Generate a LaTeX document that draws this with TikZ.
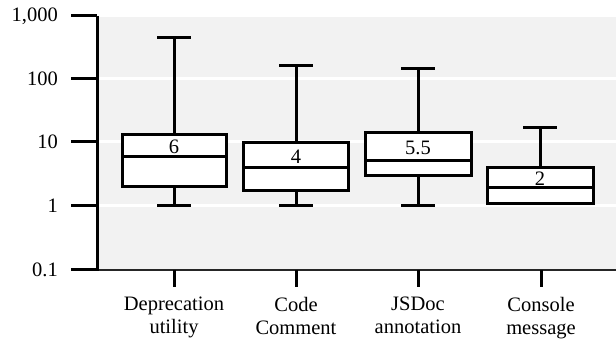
\documentclass[tikz,border=0pt]{standalone}
\usepackage{fontspec}
\setmainfont{Liberation Serif}
\begin{document}
\begin{tikzpicture}[x=1pt,y=-1pt,
  font=\fontsize{20.5}{23}\selectfont,
  axisline/.style={line width=3pt},
  boxline/.style={line width=3pt, fill=white},
  wline/.style={line width=3pt},
  grid line/.style={white, line width=3pt},
  catlabel/.style={align=center, anchor=north, inner sep=0pt},
  ylabel/.style={anchor=east, inner sep=0pt},
  medlabel/.style={inner sep=0pt}]
\useasboundingbox (0,0) rectangle (616,344);
% plot area
\fill[black!5] (98,17) rectangle (616,270);
\foreach \yy in {79,142,206} \draw[grid line] (98,\yy) -- (616,\yy);
% x axis
\draw[line width=2pt, black!85] (71,270) -- (616,270);
% y axis
\draw[axisline] (97,16) -- (97,271);
\foreach \yy/\lab in {16/{1,000},79/100,142/10,206/1,270/0.1}{
  \draw[axisline] (71,\yy) -- (97,\yy);
  \node[ylabel] at (58,\yy) {\lab};
}
% x ticks and labels
\foreach \xx/\lab/\nm in {174/{Deprecation\\utility}/c1,296/{Code\\Comment}/c2,418/{JSDoc\\annotation}/c3,541/{Console\\message}/c4}{
  \draw[axisline] (\xx,270) -- (\xx,287);
  \node[catlabel] (\nm) at (\xx,297) {\lab};
}
% box plots: center/halfwidth/whiskertop/boxtop/median/boxbottom/whiskerbottom/label
\foreach \cx/\hw/\wt/\bt/\md/\bb/\wb/\lab/\nm in {
  174/52/38/135/157/187/206/6/b1,
  296/52.5/66/143/168/191/206/4/b2,
  418/53/69/133/161/176/206/5.5/b3,
  540/53/128/168/188/204/204/2/b4}{
  \draw[wline] (\cx-17,\wt) -- (\cx+17,\wt);
  \draw[wline] (\cx,\wt) -- (\cx,\bt);
  \draw[wline] (\cx,\bb) -- (\cx,\wb);
  \draw[wline] (\cx-17,\wb) -- (\cx+17,\wb);
  \draw[boxline] (\cx-\hw,\bt) rectangle (\cx+\hw,\bb);
  \draw[wline] (\cx-\hw,\md) -- (\cx+\hw,\md);
  \node[medlabel] (\nm) at (\cx,{(\bt+\md)/2+1}) {\lab};
}
\end{tikzpicture}
\end{document}
